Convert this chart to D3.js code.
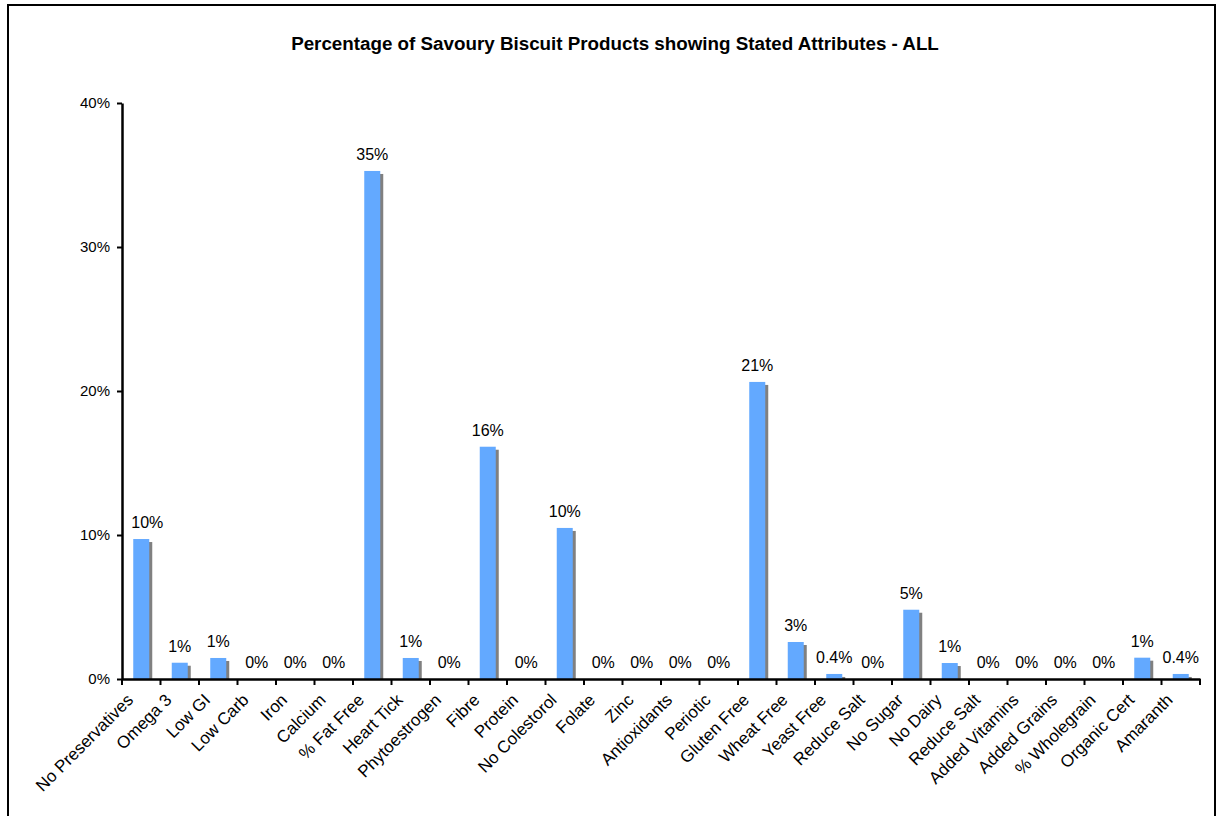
<!DOCTYPE html>
<html><head><meta charset="utf-8">
<script src="https://cdn.jsdelivr.net/npm/d3@7/dist/d3.min.js"></script>
<style>body{margin:0;background:#fff;} text{font-family:Arial,"Liberation Sans",sans-serif;}</style>
</head><body>
<svg id="c" width="1221" height="816"></svg>
<script>
const categories = ["No Preservatives","Omega 3","Low GI","Low Carb","Iron","Calcium","% Fat Free","Heart Tick","Phytoestrogen","Fibre","Protein","No Colestorol","Folate","Zinc","Antioxidants","Periotic","Gluten Free","Wheat Free","Yeast Free","Reduce Salt","No Sugar","No Dairy","Reduce Salt","Added Vitamins","Added Grains","% Wholegrain","Organic Cert","Amaranth"];
const values = [9.72,1.13,1.46,0,0,0,35.28,1.46,0,16.13,0,10.49,0,0,0,0,20.63,2.57,0.35,0,4.81,1.11,0,0,0,0,1.48,0.35];
const valueLabels = ["10%","1%","1%","0%","0%","0%","35%","1%","0%","16%","0%","10%","0%","0%","0%","0%","21%","3%","0.4%","0%","5%","1%","0%","0%","0%","0%","1%","0.4%"];
const yTicks = [0,10,20,30,40];
const title = "Percentage of Savoury Biscuit Products showing Stated Attributes - ALL";

const svg = d3.select("#c");
svg.append("rect").attr("x",8).attr("y",5).attr("width",1207).attr("height",830)
  .attr("fill","none").attr("stroke","#000").attr("stroke-width",2);

svg.append("text").attr("x",615).attr("y",50).attr("text-anchor","middle")
  .attr("font-size",18.8).attr("font-weight","bold").text(title);

const idx = categories.map((d,i)=>i);
const x = d3.scaleBand().domain(idx).range([122,1200]).padding(0);
const y = d3.scaleLinear().domain([0,40]).range([679,103]);
const bw = 16, off = 3;

// shadows
svg.append("g").selectAll("rect").data(values).join("rect")
  .attr("x",(d,i)=>x(i)+x.bandwidth()/2-bw/2+off)
  .attr("y",d=>Math.min(y(d)+off,y(0)))
  .attr("width",bw)
  .attr("height",d=>Math.max(0,y(0)-y(d)-off))
  .attr("fill","#808080");
svg.append("g").selectAll("rect").data(values).join("rect")
  .attr("x",(d,i)=>x(i)+x.bandwidth()/2-bw/2)
  .attr("y",d=>y(d))
  .attr("width",bw)
  .attr("height",d=>y(0)-y(d))
  .attr("fill","#63a9ff");

// value labels
svg.append("g").selectAll("text").data(values).join("text")
  .attr("x",(d,i)=>x(i)+x.bandwidth()/2+(i===0?6:0))
  .attr("y",d=>y(d)-11)
  .attr("text-anchor","middle").attr("font-size",16).attr("fill","#000")
  .text((d,i)=>valueLabels[i]);

// y axis
const yAxis = d3.axisLeft(y).tickValues(yTicks).tickFormat(d=>d+"%").tickSizeInner(5).tickSizeOuter(0);
const gy = svg.append("g").attr("transform","translate(122,0)").call(yAxis);
gy.select(".domain").attr("stroke","#000").attr("stroke-width",2.5);
gy.selectAll(".tick line").attr("stroke","#000").attr("stroke-width",2);
gy.selectAll(".tick text").attr("font-size",15).attr("font-family","Arial, Liberation Sans, sans-serif").attr("x",-12).attr("fill","#000");

// x axis
const xAxis = d3.axisBottom(x).tickSize(0).tickFormat(i=>categories[i]);
const gx = svg.append("g").attr("transform","translate(0,679)").call(xAxis);
gx.select(".domain").attr("stroke","#000").attr("stroke-width",2.5);
gx.selectAll(".tick text").attr("font-size",17).attr("font-family","Arial, Liberation Sans, sans-serif").attr("fill","#000")
  .attr("text-anchor","end").attr("dy",0).attr("y",0)
  .attr("transform","translate(-7,22) rotate(-45)");
// boundary ticks
const bounds = d3.range(categories.length+1).map(i=>122+i*x.step());
svg.append("g").selectAll("line").data(bounds).join("line")
  .attr("x1",d=>d).attr("x2",d=>d).attr("y1",679).attr("y2",685)
  .attr("stroke","#000").attr("stroke-width",2);
</script>
</body></html>
